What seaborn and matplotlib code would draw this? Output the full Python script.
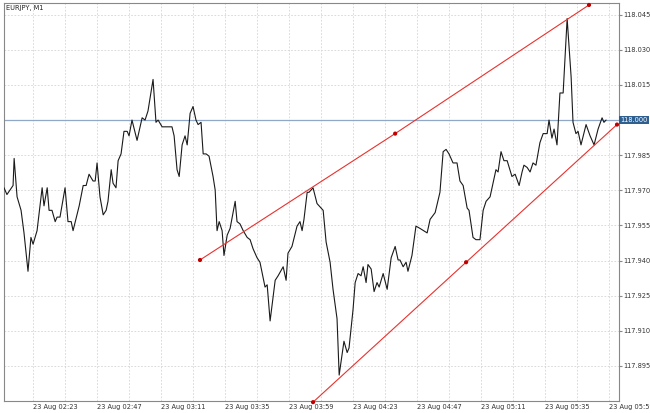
import numpy as np
import pandas as pd
import seaborn as sns
import matplotlib
matplotlib.use('Agg')
import matplotlib.pyplot as plt

# minutes after 23 Aug 02:23, and EURJPY close prices
minutes = [-10.9, -9.8, -7.5, -7.1, -6.0, -4.5, -3.4, -1.9, -0.8, 0, 1.5, 3.4, 4.1, 5.3, 6.0, 7.1, 8.3, 9.0, 10.1,
           12.0, 13.1, 14.3, 15.0, 17.3, 18.8, 19.9, 21.0, 22.5, 23.3, 24.0, 25.1, 26.3, 27.4, 28.1, 29.3, 30.0,
           31.1, 31.9, 33.0, 34.1, 35.3, 36.0, 37.1, 39.0, 40.9, 42.0, 43.1, 45.0, 46.1, 46.9, 48.4, 50.6, 52.1,
           52.9, 54.0, 54.8, 55.9, 57.0, 57.8, 58.9, 60.0, 61.1, 61.9, 63.0, 63.8, 64.9, 66.0, 67.5, 68.3, 69.0,
           69.8, 70.9, 71.6, 72.8, 73.9, 75.8, 76.5, 77.6, 78.8, 80.3, 81.4, 82.5, 84.0, 85.1, 87.0, 87.8, 88.9,
           90.8, 91.9, 93.8, 94.9, 95.6, 97.1, 99.0, 100.1, 100.9, 101.6, 102.8, 103.5, 105.0, 106.5, 108.8,
           109.9, 111.4, 112.5, 114.0, 114.8, 116.6, 117.8, 118.5, 120.0, 120.8, 121.9, 123.0, 123.8, 124.9,
           125.6, 126.8, 127.9, 129.0, 129.8, 131.3, 132.8, 134.3, 135.8, 136.9, 137.6, 138.8, 139.9, 140.6,
           142.1, 143.6, 145.1, 147.8, 148.9, 150.8, 152.6, 153.8, 154.9, 156.0, 157.5, 159.0, 160.1, 161.3,
           162.8, 163.5, 165.0, 166.1, 167.6, 168.8, 169.9, 171.4, 173.6, 174.4, 175.5, 176.6, 177.8, 179.6,
           180.8, 182.3, 183.4, 184.1, 185.3, 186.4, 187.5, 188.6, 190.1, 191.3, 192.8, 193.5, 194.6, 195.4,
           196.5, 197.6, 198.8, 200.3, 201.8, 202.5, 203.6, 204.4, 205.5, 207.4, 208.9, 210.4, 211.9, 213.4,
           214.1, 214.9]
prices = [117.970, 117.967, 117.971, 117.983, 117.966, 117.960, 117.950, 117.933, 117.948, 117.945, 117.951,
          117.970, 117.962, 117.970, 117.960, 117.960, 117.955, 117.957, 117.957, 117.970, 117.955, 117.955,
          117.951, 117.962, 117.971, 117.971, 117.976, 117.973, 117.973, 117.981, 117.966, 117.958, 117.960,
          117.964, 117.978, 117.972, 117.970, 117.982, 117.985, 117.995, 117.995, 117.993, 118.000, 117.991,
          118.001, 118.000, 118.004, 118.018, 117.999, 118.000, 117.997, 117.997, 117.997, 117.993, 117.978,
          117.975, 117.989, 117.993, 117.989, 118.003, 118.006, 118.000, 117.998, 117.999, 117.985, 117.985,
          117.984, 117.975, 117.969, 117.951, 117.955, 117.951, 117.940, 117.949, 117.952, 117.964, 117.955,
          117.954, 117.951, 117.948, 117.947, 117.943, 117.939, 117.937, 117.926, 117.927, 117.911, 117.929,
          117.931, 117.935, 117.929, 117.941, 117.944, 117.953, 117.955, 117.951, 117.956, 117.968, 117.968,
          117.970, 117.963, 117.960, 117.946, 117.937, 117.925, 117.912, 117.887, 117.902, 117.897, 117.899,
          117.916, 117.928, 117.932, 117.931, 117.935, 117.928, 117.936, 117.934, 117.924, 117.928, 117.926,
          117.932, 117.925, 117.939, 117.944, 117.938, 117.938, 117.935, 117.937, 117.933, 117.940, 117.953,
          117.952, 117.950, 117.956, 117.959, 117.968, 117.986, 117.987, 117.985, 117.981, 117.981, 117.973,
          117.971, 117.961, 117.960, 117.948, 117.947, 117.947, 117.960, 117.964, 117.966, 117.978, 117.977,
          117.986, 117.982, 117.982, 117.975, 117.976, 117.971, 117.977, 117.980, 117.979, 117.977, 117.981,
          117.980, 117.990, 117.994, 117.994, 118.000, 117.992, 117.996, 117.989, 118.012, 118.012, 118.045,
          118.019, 117.999, 117.994, 117.995, 117.989, 117.998, 117.993, 117.989, 117.996, 118.001, 117.999,
          118.000]

# trend channel anchor points (upper line, lower line)
upper_t = [62.6, 135.8, 208.5]
upper_p = [117.938, 117.994, 118.051]
lower_t = [105.0, 162.4, 219.0]
lower_p = [117.875, 117.937, 117.998]

tick_labels = ["23 Aug 02:23", "23 Aug 02:47", "23 Aug 03:11", "23 Aug 03:35", "23 Aug 03:59",
               "23 Aug 04:23", "23 Aug 04:47", "23 Aug 05:11", "23 Aug 05:35", "23 Aug 05:59"]
price_ticks = [117.895, 117.910, 117.925, 117.940, 117.955, 117.970, 117.985, 118.000, 118.015, 118.030, 118.045]
last_price = 118.000


# values were read with a slightly off pixel scale; pull them back onto the axis scale
def calib(p):
    return 118 + (np.asarray(p) - 118) * 0.964


df = pd.DataFrame({"t": minutes, "price": calib(prices)})
up = pd.DataFrame({"t": upper_t, "price": calib(upper_p)})
lo = pd.DataFrame({"t": lower_t, "price": calib(lower_p)})

sns.set_style("white")
plt.rcParams['font.family'] = ['DejaVu Sans']
fig = plt.figure(figsize=(6.5, 4.13), dpi=100)
ax = fig.add_axes([4 / 650, 12 / 413, 615 / 650, 398 / 413])

for t in np.arange(0, 220, 12):
    ax.axvline(t, color="#d4d4d4", lw=0.6, ls=(0, (2, 2)), zorder=0)
for p in price_ticks:
    ax.axhline(p, color="#d4d4d4", lw=0.6, ls=(0, (2, 2)), zorder=0)
ax.axhline(last_price, color="#8fa8c8", lw=0.9, zorder=1)

sns.lineplot(data=df, x="t", y="price", color="#1a1a1a", lw=0.8, ax=ax, zorder=3)
for d in (up, lo):
    sns.lineplot(data=d, x="t", y="price", color="#e8322e", lw=0.8, ax=ax, zorder=4)
    sns.scatterplot(data=d, x="t", y="price", color="#c00000", s=9, edgecolor="none", ax=ax, zorder=5,
                    clip_on=False)

ax.set_xlim(-10.9, 219.75)
ax.set_ylim(117.880, 118.050)
ax.set_xticks(np.arange(0, 217, 24))
ax.set_xticklabels(tick_labels, fontsize=4.8, color="#333333", ha="left")
ax.set_yticks(price_ticks)
ax.set_yticklabels(["" if p == last_price else f"{p:.3f}" for p in price_ticks], fontsize=4.8, color="#333333")
ax.yaxis.tick_right()
ax.tick_params(axis="y", length=2, pad=1, color="#888888")
ax.tick_params(axis="x", length=0, pad=2)
ax.set_xlabel("")
ax.set_ylabel("")
for s in ax.spines.values():
    s.set_color("#888888")
    s.set_linewidth(0.8)

ax.text(0.003, 0.995, "EURJPY, M1", transform=ax.transAxes, fontsize=4.8, va="top", ha="left", color="#222222")
ax.text(1.002, last_price, "118.000", transform=ax.get_yaxis_transform(), fontsize=4.8, va="center", ha="left",
        color="white", bbox=dict(boxstyle="square,pad=0.15", fc="#2f5f8f", ec="none"), zorder=6, clip_on=False)

fig.savefig("out.png", dpi=100)
